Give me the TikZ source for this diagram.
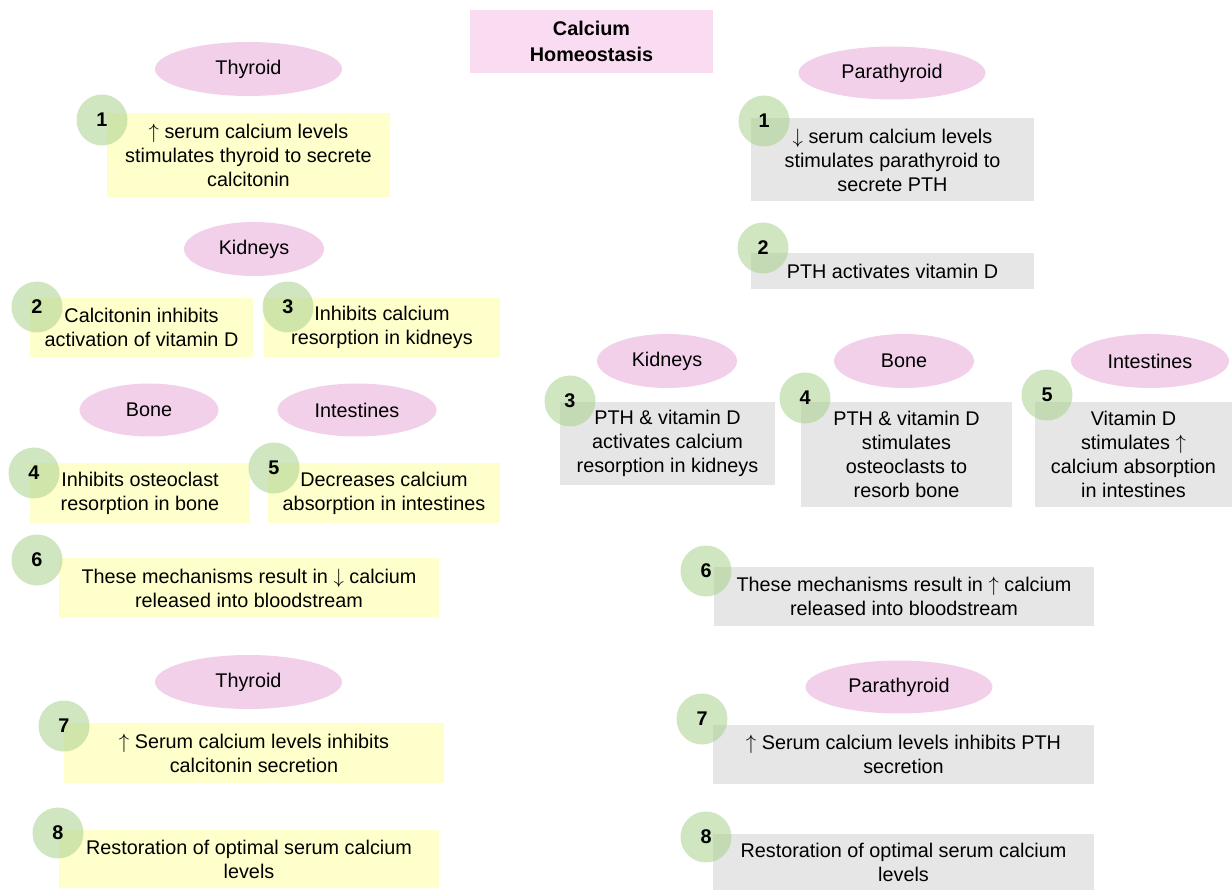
\documentclass[tikz,border=0pt]{standalone}
\usepackage{fontspec}
\setmainfont{Liberation Sans}
\usetikzlibrary{shapes.geometric}
\definecolor{yfill}{HTML}{FFFFCC}
\definecolor{gfill}{HTML}{E7E6E6}
\definecolor{pinkf}{HTML}{F2D0EA}
\definecolor{titlef}{HTML}{FADCF2}
\definecolor{greenc}{HTML}{A9D18E}
\newcommand\fsz{\fontsize{19.8}{24}\selectfont}
\newcommand\upar{$\uparrow$}
\newcommand\dnar{$\downarrow$}
\tikzset{
  txtbox/.style={inner sep=0pt, align=center, font=\fsz},
  ybox/.style={txtbox, fill=yfill},
  gbox/.style={txtbox, fill=gfill},
  organ/.style={ellipse, fill=pinkf, inner sep=0pt, font=\fsz, minimum height=54pt},
  num/.style={circle, fill=greenc, fill opacity=0.55, text opacity=1, minimum size=51pt, inner sep=0pt, font=\fsz\bfseries},
}
\begin{document}
\begin{tikzpicture}[x=1pt,y=-1pt]
\useasboundingbox (0,0) rectangle (1232,890);
% title
\node[txtbox, fill=titlef, minimum width=243pt, minimum height=63pt, font=\fontsize{19.8}{26}\selectfont\bfseries] (title) at (591.5,41.5) {Calcium\\Homeostasis};
% ---------- left column ----------
\node[organ, minimum width=187pt] (lthy) at (248.5,69) {Thyroid};
\node[ybox, minimum width=283pt, minimum height=84pt] (l1) at (248.5,155) {\upar{} serum calcium levels\\stimulates thyroid to secrete\\calcitonin};
\node[organ, minimum width=140pt] (lkid) at (254,249) {Kidneys};
\node[ybox, minimum width=223pt, minimum height=59pt] (l2) at (141.5,327.5) {Calcitonin inhibits\\activation of vitamin D};
\node[ybox, minimum width=236pt, minimum height=59pt] (l3) at (382,327.5) {Inhibits calcium\\resorption in kidneys};
\node[organ, minimum width=139pt, minimum height=53pt] (lbone) at (149,410) {Bone};
\node[organ, minimum width=159pt, minimum height=53pt] (lint) at (357,410) {Intestines};
\node[ybox, minimum width=220pt, minimum height=59pt] (l4) at (140,493) {Inhibits osteoclast\\resorption in bone};
\node[ybox, minimum width=232pt, minimum height=59pt] (l5) at (384,493) {Decreases calcium\\absorption in intestines};
\node[ybox, minimum width=380pt, minimum height=60pt] (l6) at (249,588) {These mechanisms result in \dnar{} calcium\\released into bloodstream};
\node[organ, minimum width=187pt] (lthy2) at (248.5,682) {Thyroid};
\node[ybox, minimum width=380pt, minimum height=60pt] (l7) at (254,753) {\upar{} Serum calcium levels inhibits\\calcitonin secretion};
\node[ybox, minimum width=380pt, minimum height=58pt] (l8) at (249,859) {Restoration of optimal serum calcium\\levels};
\node[num] (ln1) at (102,120) {1};
\node[num] (ln2) at (37,307) {2};
\node[num] (ln3) at (288,307) {3};
\node[num] (ln4) at (34,473) {4};
\node[num] (ln5) at (274,468) {5};
\node[num] (ln6) at (37,560) {6};
\node[num] (ln7) at (64,726) {7};
\node[num] (ln8) at (58,833) {8};
% ---------- right column ----------
\node[organ, minimum width=187pt, minimum height=53pt] (rpar) at (892,73) {Parathyroid};
\node[gbox, minimum width=283pt, minimum height=83pt] (r1) at (892.5,160) {\dnar{} serum calcium levels\\stimulates parathyroid to\\secrete PTH};
\node[gbox, minimum width=283pt, minimum height=36pt] (r2) at (892.5,271.5) {PTH activates vitamin D};
\node[organ, minimum width=140pt] (rkid) at (667,361) {Kidneys};
\node[organ, minimum width=140pt] (rbone) at (904,361) {Bone};
\node[organ, minimum width=158pt] (rint) at (1150,361) {Intestines};
\node[gbox, minimum width=215pt, minimum height=82pt] (r3) at (667.5,443.5) {PTH \& vitamin D\\activates calcium\\resorption in kidneys};
\node[gbox, minimum width=211pt, minimum height=104pt] (r4) at (906.5,454.5) {PTH \& vitamin D\\stimulates\\osteoclasts to\\resorb bone};
\node[gbox, minimum width=197pt, minimum height=104pt] (r5) at (1133.5,454.5) {Vitamin D\\stimulates \upar\\calcium absorption\\in intestines};
\node[gbox, minimum width=380pt, minimum height=59pt] (r6) at (904,596) {These mechanisms result in \upar{} calcium\\released into bloodstream};
\node[organ, minimum width=187pt, minimum height=53pt] (rpar2) at (899,687) {Parathyroid};
\node[gbox, minimum width=381pt, minimum height=59pt] (r7) at (903.5,754) {\upar{} Serum calcium levels inhibits PTH\\secretion};
\node[gbox, minimum width=381pt, minimum height=57pt] (r8) at (903.5,862) {Restoration of optimal serum calcium\\levels};
\node[num] (rn1) at (764,121) {1};
\node[num] (rn2) at (763,248) {2};
\node[num] (rn3) at (570,401) {3};
\node[num] (rn4) at (805,398) {4};
\node[num] (rn5) at (1047,395) {5};
\node[num] (rn6) at (706,571) {6};
\node[num] (rn7) at (702,719) {7};
\node[num] (rn8) at (706,837) {8};
\end{tikzpicture}
\end{document}
